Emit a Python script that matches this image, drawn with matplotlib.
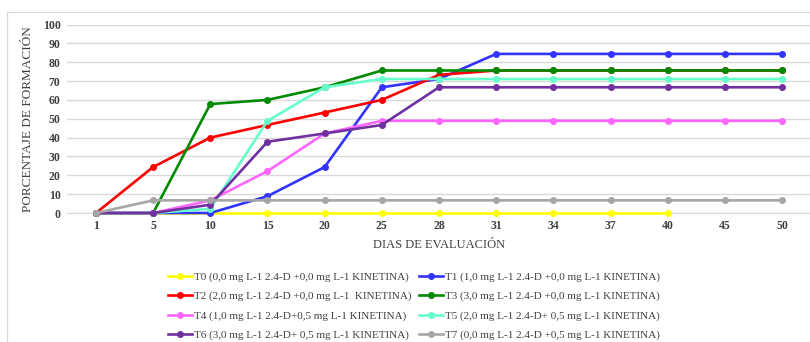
import numpy as np
import matplotlib.pyplot as plt
from matplotlib.patches import Rectangle

plt.rcParams['font.family'] = ['Liberation Serif', 'DejaVu Serif']

# Días de evaluación y porcentaje de formación por tratamiento
dias = ['1', '5', '10', '15', '20', '25', '28', '31', '34', '37', '40', '45', '50']

t0 = [0, 0, 0, 0, 0, 0, 0, 0, 0, 0, 0]
t1 = [0, 0, 0, 8.9, 24.4, 66.7, 71.1, 84.4, 84.4, 84.4, 84.4, 84.4, 84.4]
t2 = [0, 24.4, 40.0, 46.7, 53.3, 60.0, 73.3, 75.6, 75.6, 75.6, 75.6, 75.6, 75.6]
t3 = [0, 0, 57.8, 60.0, 66.7, 75.6, 75.6, 75.6, 75.6, 75.6, 75.6, 75.6, 75.6]
t4 = [0, 0, 6.7, 22.2, 42.2, 48.9, 48.9, 48.9, 48.9, 48.9, 48.9, 48.9, 48.9]
t5 = [0, 0, 2.2, 48.9, 66.7, 71.1, 71.1, 71.1, 71.1, 71.1, 71.1, 71.1, 71.1]
t6 = [0, 0, 4.4, 37.8, 42.2, 46.7, 66.7, 66.7, 66.7, 66.7, 66.7, 66.7, 66.7]
t7 = [0, 6.7, 6.7, 6.7, 6.7, 6.7, 6.7, 6.7, 6.7, 6.7, 6.7, 6.7, 6.7]

etiquetas = [
    'T0 (0,0 mg L-1 2.4-D +0,0 mg L-1 KINETINA)',
    'T1 (1,0 mg L-1 2.4-D +0,0 mg L-1 KINETINA)',
    'T2 (2,0 mg L-1 2.4-D +0,0 mg L-1  KINETINA)',
    'T3 (3,0 mg L-1 2.4-D +0,0 mg L-1 KINETINA)',
    'T4 (1,0 mg L-1 2.4-D+0,5 mg L-1 KINETINA)',
    'T5 (2,0 mg L-1 2.4-D+ 0,5 mg L-1 KINETINA)',
    'T6 (3,0 mg L-1 2.4-D+ 0,5 mg L-1 KINETINA)',
    'T7 (0,0 mg L-1 2.4-D +0,5 mg L-1 KINETINA)',
]
series = [t0, t1, t2, t3, t4, t5, t6, t7]
colores = ['#FFFF00', '#3333FF', '#FF0000', '#008A00',
           '#FF66FF', '#66FFCC', '#7030A0', '#A6A6A6']

fig = plt.figure(figsize=(8.1, 3.42), dpi=100)
fig.patches.append(Rectangle((7 / 810, -0.1), 1.1, 1 - 12 / 342 + 0.1,
                             transform=fig.transFigure, fill=False,
                             edgecolor='#D9D9D9', lw=0.9))

ax = fig.add_axes([67.4 / 810, 1 - 213 / 342, (810 - 67.4) / 810, (213 - 24.5) / 342])
x = np.arange(len(dias))

handles = []
for vals, col, lab in zip(series, colores, etiquetas):
    h, = ax.plot(x[:len(vals)], vals, color=col, lw=1.9, marker='o', ms=4,
                 label=lab, zorder=3, clip_on=False)
    handles.append(h)

ax.set_xlim(-0.5, (810 - 96) / 57.17)
ax.set_ylim(0, 100)
ax.set_yticks(range(0, 101, 10))
ax.set_xticks(x)
ax.set_xticklabels(dias)
ax.grid(axis='y', color='#D9D9D9', lw=1)
ax.set_axisbelow(True)
for s in ['top', 'right', 'left']:
    ax.spines[s].set_visible(False)
ax.spines['bottom'].set_color('#D9D9D9')
ax.spines['bottom'].set_zorder(0.5)
ax.tick_params(length=0, labelsize=8.5, colors='#404040', pad=5)
for t in ax.get_xticklabels() + ax.get_yticklabels():
    t.set_fontweight('bold')

ax.set_ylabel('PORCENTAJE DE FORMACIÓN', fontsize=9.5, color='#404040', labelpad=6)
ax.set_xlabel('DIAS DE EVALUACIÓN', fontsize=9, color='#404040', labelpad=5)

# orden por filas: T0 T1 / T2 T3 / T4 T5 / T6 T7
orden = [0, 2, 4, 6, 1, 3, 5, 7]
fig.legend([handles[i] for i in orden], [etiquetas[i] for i in orden],
           ncol=2, loc='center', bbox_to_anchor=(414 / 810, 1 - 306 / 342),
           frameon=False, fontsize=8, handlelength=2.2, handletextpad=0.2,
           columnspacing=0.6, labelspacing=0.85, labelcolor='#404040')

fig.savefig('out.png', dpi=100)
